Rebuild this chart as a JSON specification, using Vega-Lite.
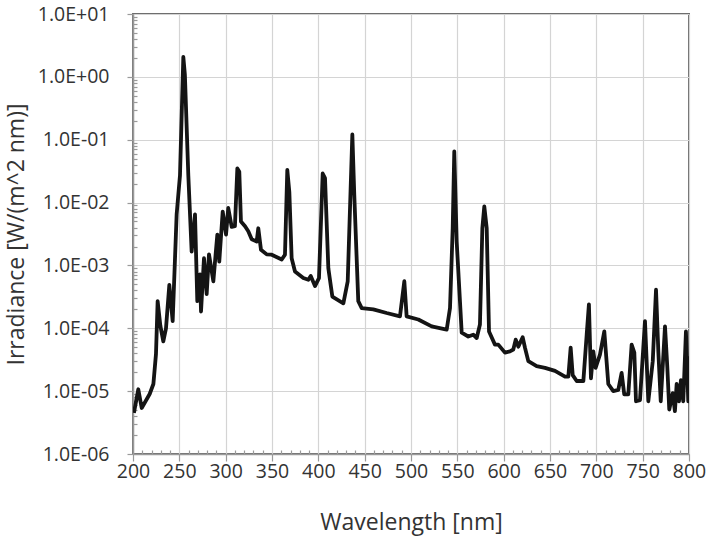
{
  "$schema": "https://vega.github.io/schema/vega-lite/v6.json",
  "autosize": {"type": "none"},
  "padding": {"left": 133, "top": 14, "right": 20, "bottom": 83},
  "width": 556,
  "height": 440,
  "background": "white",
  "config": {
    "view": {"stroke": "#6e6e6e", "strokeWidth": 2},
    "axis": {
      "labelFont": "Open Sans",
      "titleFont": "Open Sans",
      "labelColor": "#333333",
      "titleColor": "#333333",
      "labelFontSize": 19.5,
      "titleFontSize": 23,
      "titleFontWeight": 500,
      "gridColor": "#d4d4d4",
      "gridWidth": 1.2,
      "domainColor": "#9a9a9a",
      "domainWidth": 1.5,
      "tickColor": "#9a9a9a",
      "tickWidth": 1.2
    }
  },
  "data": {
    "values": [
      {"wl": 201, "irr": 4.5e-6},
      {"wl": 205.7, "irr": 1.07e-5},
      {"wl": 209.4, "irr": 5.4e-6},
      {"wl": 218, "irr": 9e-6},
      {"wl": 222, "irr": 1.3e-5},
      {"wl": 224.8, "irr": 3.9e-5},
      {"wl": 226.6, "irr": 2.7e-4},
      {"wl": 229.5, "irr": 1.1e-4},
      {"wl": 232.7, "irr": 6.2e-5},
      {"wl": 235.6, "irr": 1e-4},
      {"wl": 239.2, "irr": 4.9e-4},
      {"wl": 242.8, "irr": 1.3e-4},
      {"wl": 247.1, "irr": 6.5e-3},
      {"wl": 250.7, "irr": 0.027},
      {"wl": 254.3, "irr": 2.07},
      {"wl": 256, "irr": 1.07},
      {"wl": 259.7, "irr": 0.027},
      {"wl": 263.3, "irr": 1.66e-3},
      {"wl": 266.9, "irr": 6.5e-3},
      {"wl": 269.4, "irr": 2.7e-4},
      {"wl": 272.3, "irr": 7.2e-4},
      {"wl": 273.4, "irr": 1.85e-4},
      {"wl": 276.6, "irr": 1.3e-3},
      {"wl": 279.5, "irr": 3.5e-4},
      {"wl": 282, "irr": 1.5e-3},
      {"wl": 286.7, "irr": 5.6e-4},
      {"wl": 291, "irr": 3.1e-3},
      {"wl": 293.1, "irr": 1.15e-3},
      {"wl": 296.8, "irr": 7.2e-3},
      {"wl": 300.4, "irr": 3.1e-3},
      {"wl": 302.8, "irr": 8.2e-3},
      {"wl": 306.5, "irr": 4.1e-3},
      {"wl": 310, "irr": 4.2e-3},
      {"wl": 312.6, "irr": 0.035},
      {"wl": 314.7, "irr": 0.031},
      {"wl": 316.5, "irr": 5e-3},
      {"wl": 320.9, "irr": 4.2e-3},
      {"wl": 324.4, "irr": 3.5e-3},
      {"wl": 328.1, "irr": 2.6e-3},
      {"wl": 333.5, "irr": 2.4e-3},
      {"wl": 335.2, "irr": 3.9e-3},
      {"wl": 338.1, "irr": 1.78e-3},
      {"wl": 344.3, "irr": 1.5e-3},
      {"wl": 349.7, "irr": 1.48e-3},
      {"wl": 360.5, "irr": 1.24e-3},
      {"wl": 364, "irr": 1.48e-3},
      {"wl": 366.5, "irr": 0.033},
      {"wl": 368.7, "irr": 0.0148},
      {"wl": 371.2, "irr": 1.3e-3},
      {"wl": 374.8, "irr": 8e-4},
      {"wl": 383.8, "irr": 6.3e-4},
      {"wl": 389.2, "irr": 5.9e-4},
      {"wl": 391.8, "irr": 6.8e-4},
      {"wl": 396.4, "irr": 4.7e-4},
      {"wl": 400.7, "irr": 6.3e-4},
      {"wl": 404.7, "irr": 0.029},
      {"wl": 407.2, "irr": 0.0245},
      {"wl": 410.8, "irr": 9e-4},
      {"wl": 415.1, "irr": 3.2e-4},
      {"wl": 427, "irr": 2.5e-4},
      {"wl": 431.7, "irr": 5.6e-4},
      {"wl": 436.7, "irr": 0.121},
      {"wl": 438.8, "irr": 0.0132},
      {"wl": 443.1, "irr": 2.7e-4},
      {"wl": 446.8, "irr": 2.1e-4},
      {"wl": 459.3, "irr": 2e-4},
      {"wl": 473.7, "irr": 1.75e-4},
      {"wl": 488.1, "irr": 1.55e-4},
      {"wl": 492.8, "irr": 5.6e-4},
      {"wl": 495.3, "irr": 1.55e-4},
      {"wl": 507.9, "irr": 1.38e-4},
      {"wl": 522.3, "irr": 1.07e-4},
      {"wl": 538.5, "irr": 9.5e-5},
      {"wl": 542.1, "irr": 2.1e-4},
      {"wl": 545, "irr": 3.9e-3},
      {"wl": 546.7, "irr": 0.065},
      {"wl": 549.3, "irr": 2.4e-3},
      {"wl": 554.7, "irr": 8.5e-5},
      {"wl": 561.8, "irr": 7.4e-5},
      {"wl": 567.2, "irr": 7.9e-5},
      {"wl": 570.9, "irr": 7e-5},
      {"wl": 574.4, "irr": 1.15e-4},
      {"wl": 577, "irr": 3.9e-3},
      {"wl": 579.1, "irr": 8.7e-3},
      {"wl": 581.7, "irr": 3.9e-3},
      {"wl": 584.2, "irr": 8.9e-5},
      {"wl": 590.6, "irr": 5.5e-5},
      {"wl": 594.2, "irr": 5.5e-5},
      {"wl": 601.4, "irr": 4.1e-5},
      {"wl": 606.8, "irr": 4.3e-5},
      {"wl": 610.4, "irr": 4.6e-5},
      {"wl": 613, "irr": 6.6e-5},
      {"wl": 615.8, "irr": 5.1e-5},
      {"wl": 620.5, "irr": 7.2e-5},
      {"wl": 623, "irr": 4.9e-5},
      {"wl": 626.6, "irr": 3e-5},
      {"wl": 635.6, "irr": 2.5e-5},
      {"wl": 644.6, "irr": 2.35e-5},
      {"wl": 655.4, "irr": 2.1e-5},
      {"wl": 666.2, "irr": 1.7e-5},
      {"wl": 669.8, "irr": 1.7e-5},
      {"wl": 672.3, "irr": 4.9e-5},
      {"wl": 674.5, "irr": 1.8e-5},
      {"wl": 678.8, "irr": 1.45e-5},
      {"wl": 686, "irr": 1.45e-5},
      {"wl": 689.6, "irr": 7.9e-5},
      {"wl": 692, "irr": 2.4e-4},
      {"wl": 694.2, "irr": 1.6e-5},
      {"wl": 696.7, "irr": 4.3e-5},
      {"wl": 699.2, "irr": 2.35e-5},
      {"wl": 703.9, "irr": 3.8e-5},
      {"wl": 708.6, "irr": 8.9e-5},
      {"wl": 712.9, "irr": 1.3e-5},
      {"wl": 718.3, "irr": 1e-5},
      {"wl": 723.7, "irr": 1.05e-5},
      {"wl": 727.3, "irr": 1.95e-5},
      {"wl": 730.1, "irr": 8.9e-6},
      {"wl": 734.5, "irr": 8.9e-6},
      {"wl": 738.1, "irr": 5.5e-5},
      {"wl": 741, "irr": 4.1e-5},
      {"wl": 742.8, "irr": 6.9e-6},
      {"wl": 747.1, "irr": 7.2e-6},
      {"wl": 752.5, "irr": 1.3e-4},
      {"wl": 756.1, "irr": 6.9e-6},
      {"wl": 760.9, "irr": 3e-5},
      {"wl": 764.4, "irr": 4.1e-4},
      {"wl": 766.9, "irr": 4.3e-5},
      {"wl": 769.5, "irr": 6.9e-6},
      {"wl": 774.1, "irr": 1.07e-4},
      {"wl": 776.6, "irr": 2.4e-5},
      {"wl": 778.7, "irr": 5.1e-6},
      {"wl": 782.4, "irr": 9.3e-6},
      {"wl": 784.8, "irr": 4.8e-6},
      {"wl": 786.7, "irr": 1.3e-5},
      {"wl": 789.2, "irr": 6.9e-6},
      {"wl": 791.3, "irr": 1.5e-5},
      {"wl": 793.8, "irr": 6.9e-6},
      {"wl": 796.7, "irr": 8.9e-5},
      {"wl": 799.2, "irr": 6.9e-6},
      {"wl": 800, "irr": 3.6e-5}
    ]
  },
  "layer": [
    {
      "mark": {"type": "line", "color": "#141414", "strokeWidth": 3.8, "strokeJoin": "round", "clip": true},
      "encoding": {
        "x": {
          "field": "wl", "type": "quantitative",
          "scale": {"domain": [200, 800], "nice": false, "zero": false},
          "axis": {
            "orient": "bottom",
            "title": "Wavelength [nm]",
            "values": [200, 250, 300, 350, 400, 450, 500, 550, 600, 650, 700, 750, 800],
            "grid": true,
            "tickSize": 7,
            "labelPadding": 1,
            "labelFlush": false,
            "labelOverlap": false,
            "titleX": 278,
            "titleY": 68,
            "titleBaseline": "middle",
            "titleAlign": "center"
          }
        },
        "y": {
          "field": "irr", "type": "quantitative",
          "scale": {"type": "log", "domain": [1e-6, 10], "nice": false},
          "axis": {
            "orient": "left",
            "title": "Irradiance [W/(m^2 nm)]",
            "values": [1e-6, 1e-5, 1e-4, 1e-3, 1e-2, 1e-1, 1, 10],
            "labelExpr": "'1.0E' + (round(log(datum.value)/LN10) >= 0 ? '+' : '-') + '0' + abs(round(log(datum.value)/LN10))",
            "grid": true,
            "tickSize": 6,
            "labelPadding": 18,
            "labelFlush": false,
            "labelOverlap": false,
            "titleX": -117,
            "titleY": 220,
            "titleAngle": -90,
            "titleBaseline": "middle",
            "titleAlign": "center"
          }
        }
      }
    },
    {
      "mark": {"type": "line", "opacity": 0},
      "encoding": {
        "x": {
          "field": "wl", "type": "quantitative",
          "axis": {
            "orient": "bottom",
            "title": null,
            "labels": false,
            "domain": false,
            "grid": false,
            "tickSize": -4,
            "values": [210, 220, 230, 240, 260, 270, 280, 290, 310, 320, 330, 340, 360, 370, 380, 390, 410, 420, 430, 440, 460, 470, 480, 490, 510, 520, 530, 540, 560, 570, 580, 590, 610, 620, 630, 640, 660, 670, 680, 690, 710, 720, 730, 740, 760, 770, 780, 790]
          }
        },
        "y": {
          "field": "irr", "type": "quantitative",
          "axis": {
            "orient": "left",
            "title": null,
            "labels": false,
            "domain": false,
            "grid": false,
            "tickSize": -4,
            "values": [2e-6, 3e-6, 4e-6, 5e-6, 6e-6, 7e-6, 8e-6, 9e-6, 2e-5, 3e-5, 4e-5, 5e-5, 6e-5, 7e-5, 8e-5, 9e-5, 2e-4, 3e-4, 4e-4, 5e-4, 6e-4, 7e-4, 8e-4, 9e-4, 2e-3, 3e-3, 4e-3, 5e-3, 6e-3, 7e-3, 8e-3, 9e-3, 0.02, 0.03, 0.04, 0.05, 0.06, 0.07, 0.08, 0.09, 0.2, 0.3, 0.4, 0.5, 0.6, 0.7, 0.8, 0.9, 2, 3, 4, 5, 6, 7, 8, 9]
          }
        }
      }
    }
  ],
  "resolve": {"axis": {"x": "independent", "y": "independent"}}
}
